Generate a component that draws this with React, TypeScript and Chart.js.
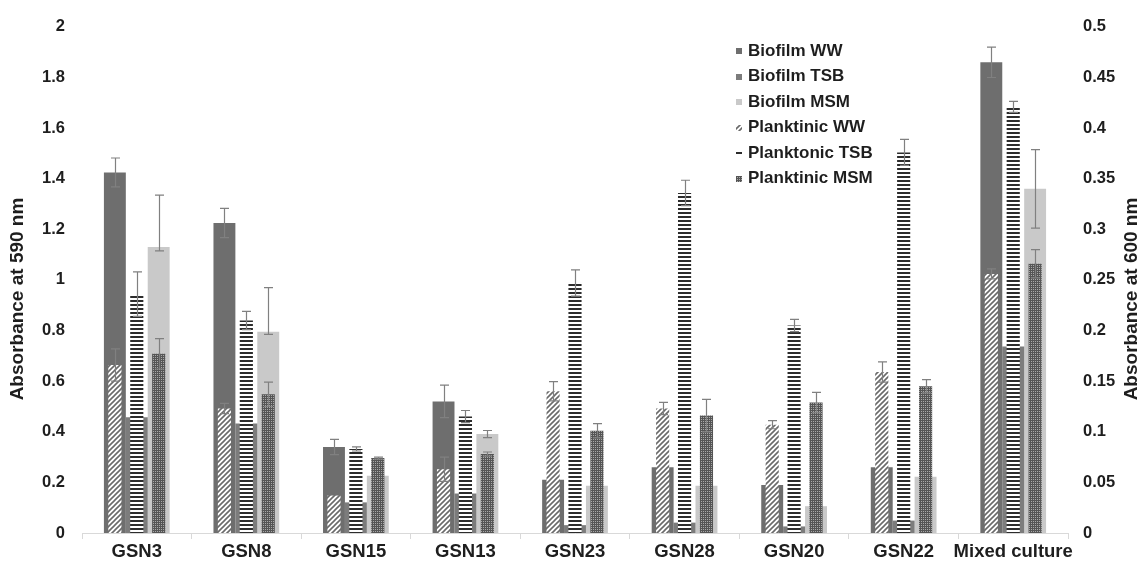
import React, { useEffect, useRef } from "react";
import { Chart, registerables } from "chart.js";

Chart.register(...registerables);

// ---------------- data ----------------
const categories = ["GSN3", "GSN8", "GSN15", "GSN13", "GSN23", "GSN28", "GSN20", "GSN22", "Mixed culture"];

// Biofilm (left axis, absorbance at 590 nm)
const biofilmWW = [1.425, 1.225, 0.34, 0.52, 0.21, 0.26, 0.19, 0.26, 1.86];
const biofilmWWErr = [0.057, 0.058, 0.03, 0.064, 0, 0, 0, 0, 0.06];
const biofilmTSB = [0.457, 0.433, 0.121, 0.156, 0.031, 0.041, 0.026, 0.049, 0.737];
const biofilmMSM = [1.13, 0.795, 0.226, 0.391, 0.187, 0.187, 0.106, 0.222, 1.36];
const biofilmMSMErr = [0.205, 0.175, 0, 0.014, 0, 0, 0, 0, 0.155];
const biofilmMSMErrLow = [0.015, 0.01, 0, 0.014, 0, 0, 0, 0, 0.155];

// Planktonic (right axis, absorbance at 600 nm)
const planktWW = [0.166, 0.123, 0.037, 0.063, 0.14, 0.123, 0.107, 0.159, 0.256];
const planktWWErr = [0.016, 0.005, 0, 0.012, 0.0095, 0.006, 0.004, 0.01, 0.005];
const planktTSB = [0.236, 0.21, 0.083, 0.115, 0.247, 0.336, 0.205, 0.376, 0.421];
const planktTSBErr = [0.022, 0.009, 0.002, 0.006, 0.013, 0.0125, 0.006, 0.0128, 0.0055];
const planktMSM = [0.177, 0.137, 0.074, 0.078, 0.101, 0.116, 0.129, 0.145, 0.266];
const planktMSMErr = [0.015, 0.012, 0.001, 0.002, 0.007, 0.016, 0.01, 0.0065, 0.014];

const seriesNames = ["Biofilm WW", "Biofilm TSB", "Biofilm MSM", "Planktinic WW", "Planktonic TSB", "Planktinic MSM"];
const leftTitle = "Absorbance at 590 nm";
const rightTitle = "Absorbance at 600 nm";

// ---------------- styles ----------------
const FONT = "'Liberation Sans', Arial, sans-serif";
const TEXT = "#1e1e1e";

function makePattern(kind: string): CanvasPattern | string {
  const c = document.createElement("canvas");
  const g = c.getContext("2d");
  if (!g) return "#888";
  if (kind === "hatch") {
    c.width = 5; c.height = 5;
    g.fillStyle = "#ffffff"; g.fillRect(0, 0, 5, 5);
    g.strokeStyle = "#6a6a6a"; g.lineWidth = 1.6;
    g.beginPath();
    g.moveTo(-1, 6); g.lineTo(6, -1);
    g.moveTo(-1, 1); g.lineTo(1, -1);
    g.moveTo(4, 6); g.lineTo(6, 4);
    g.stroke();
  } else if (kind === "stripe") {
    c.width = 4; c.height = 4;
    g.fillStyle = "#ffffff"; g.fillRect(0, 0, 4, 4);
    g.fillStyle = "#2c2c2c"; g.fillRect(0, 0, 4, 2);
  } else {
    c.width = 2; c.height = 2;
    g.fillStyle = "#555555"; g.fillRect(0, 0, 2, 2);
    g.fillStyle = "#a9a9a9"; g.fillRect(1, 1, 1, 1);
  }
  const p = g.createPattern(c, "repeat");
  return p || "#888";
}

export default function App() {
  const ref = useRef<HTMLCanvasElement | null>(null);

  useEffect(() => {
    if (!ref.current) return;
    const hatch = makePattern("hatch");
    const stripe = makePattern("stripe");
    const dots = makePattern("dots");
    const fills: any[] = ["#6e6e6e", "#7c7c7c", "#c9c9c9", hatch, stripe, dots];

    // [plus errors, minus errors] per dataset
    const errs: ([number[], number[]] | null)[] = [
      [biofilmWWErr, biofilmWWErr],
      null,
      [biofilmMSMErr, biofilmMSMErrLow],
      [planktWWErr, planktWWErr],
      [planktTSBErr, planktTSBErr],
      [planktMSMErr, planktMSMErr],
    ];

    const errorBars = {
      id: "errorBars",
      afterDatasetsDraw(chart: any) {
        const ctx = chart.ctx;
        ctx.save();
        ctx.strokeStyle = "#808080";
        ctx.lineWidth = 1.2;
        chart.data.datasets.forEach((ds: any, di: number) => {
          const e = errs[di];
          if (!e) return;
          const meta = chart.getDatasetMeta(di);
          const ys = chart.scales[meta.yAxisID];
          meta.data.forEach((bar: any, i: number) => {
            const up = e[0][i];
            const lo = e[1][i];
            if (!up && !lo) return;
            const v = ds.data[i];
            const yT = ys.getPixelForValue(v + up);
            const yB = ys.getPixelForValue(Math.max(0, v - lo));
            const x = Math.round(bar.x) + 0.5;
            ctx.beginPath();
            ctx.moveTo(x, yT); ctx.lineTo(x, yB);
            ctx.moveTo(x - 4.5, yT); ctx.lineTo(x + 4.5, yT);
            ctx.moveTo(x - 4.5, yB); ctx.lineTo(x + 4.5, yB);
            ctx.stroke();
          });
        });
        ctx.restore();
      },
    };

    const overlay = {
      id: "overlay",
      afterDraw(chart: any) {
        const ctx = chart.ctx;
        ctx.save();
        // legend
        ctx.font = `bold 17px ${FONT}`;
        ctx.textBaseline = "middle";
        ctx.textAlign = "left";
        seriesNames.forEach((name, k) => {
          const y = 51 + k * 25.5;
          ctx.fillStyle = fills[k];
          ctx.fillRect(736, Math.round(y - 3), 6, 6);
          ctx.fillStyle = TEXT;
          ctx.fillText(name, 748, y);
        });
        // axis titles (both read bottom-to-top)
        const cy = 299;
        ctx.font = `bold 19px ${FONT}`;
        ctx.textAlign = "center";
        ctx.fillStyle = TEXT;
        ctx.translate(18, cy);
        ctx.rotate(-Math.PI / 2);
        ctx.fillText(leftTitle, 0, 0);
        ctx.setTransform(1, 0, 0, 1, 0, 0);
        ctx.translate(1132, cy);
        ctx.rotate(-Math.PI / 2);
        ctx.fillText(rightTitle, 0, 0);
        ctx.restore();
      },
    };

    const bioPct = 1.0;
    const plPct = 0.6;

    const chart = new Chart(ref.current, {
      type: "bar",
      data: {
        labels: categories,
        datasets: [
          { label: seriesNames[0], data: biofilmWW, backgroundColor: fills[0], yAxisID: "y", stack: "WW", order: 2, barPercentage: bioPct, categoryPercentage: 0.6 },
          { label: seriesNames[1], data: biofilmTSB, backgroundColor: fills[1], yAxisID: "y", stack: "TSB", order: 2, barPercentage: bioPct, categoryPercentage: 0.6 },
          { label: seriesNames[2], data: biofilmMSM, backgroundColor: fills[2], yAxisID: "y", stack: "MSM", order: 2, barPercentage: bioPct, categoryPercentage: 0.6 },
          { label: seriesNames[3], data: planktWW, backgroundColor: fills[3], yAxisID: "y2", stack: "WW", order: 1, barPercentage: plPct, categoryPercentage: 0.6 },
          { label: seriesNames[4], data: planktTSB, backgroundColor: fills[4], yAxisID: "y2", stack: "TSB", order: 1, barPercentage: plPct, categoryPercentage: 0.6 },
          { label: seriesNames[5], data: planktMSM, backgroundColor: fills[5], yAxisID: "y2", stack: "MSM", order: 1, barPercentage: plPct, categoryPercentage: 0.6 },
        ] as any,
      },
      options: {
        animation: false,
        responsive: true,
        maintainAspectRatio: false,
        layout: { padding: { top: 20, left: 0, right: 0, bottom: 0 } },
        plugins: { legend: { display: false }, tooltip: { enabled: false } },
        scales: {
          x: {
            type: "category",
            offset: true,
            grid: { display: true, drawOnChartArea: false, drawTicks: true, tickLength: 6, offset: true, color: "#d9d9d9" },
            border: { display: true, color: "#d9d9d9" },
            ticks: { color: TEXT, font: { family: FONT, size: 18.5, weight: "bold" }, padding: 2, maxRotation: 0, autoSkip: false },
            afterFit: (s: any) => { s.height = 31; },
          },
          y: {
            position: "left",
            min: 0, max: 2,
            stacked: false,
            grid: { display: false, drawTicks: false },
            border: { display: false },
            ticks: {
              stepSize: 0.2, padding: 17, color: TEXT,
              font: { family: FONT, size: 16.5, weight: "bold" },
              callback: (v: any) => String(Math.round(Number(v) * 100) / 100),
            },
            afterFit: (s: any) => { s.width = 82; },
          },
          y2: {
            position: "right",
            min: 0, max: 0.5,
            stacked: false,
            grid: { display: false, drawTicks: false },
            border: { display: false },
            ticks: {
              stepSize: 0.05, padding: 15, color: TEXT,
              font: { family: FONT, size: 16.5, weight: "bold" },
              callback: (v: any) => String(Math.round(Number(v) * 1000) / 1000),
            },
            afterFit: (s: any) => { s.width = 78; },
          },
        },
      } as any,
      plugins: [errorBars, overlay],
    });
    return () => chart.destroy();
  }, []);

  return (
    <div style={{ position: "absolute", left: 0, top: 0, width: 1146, height: 564, background: "#fff" }}>
      <canvas ref={ref} />
    </div>
  );
}
